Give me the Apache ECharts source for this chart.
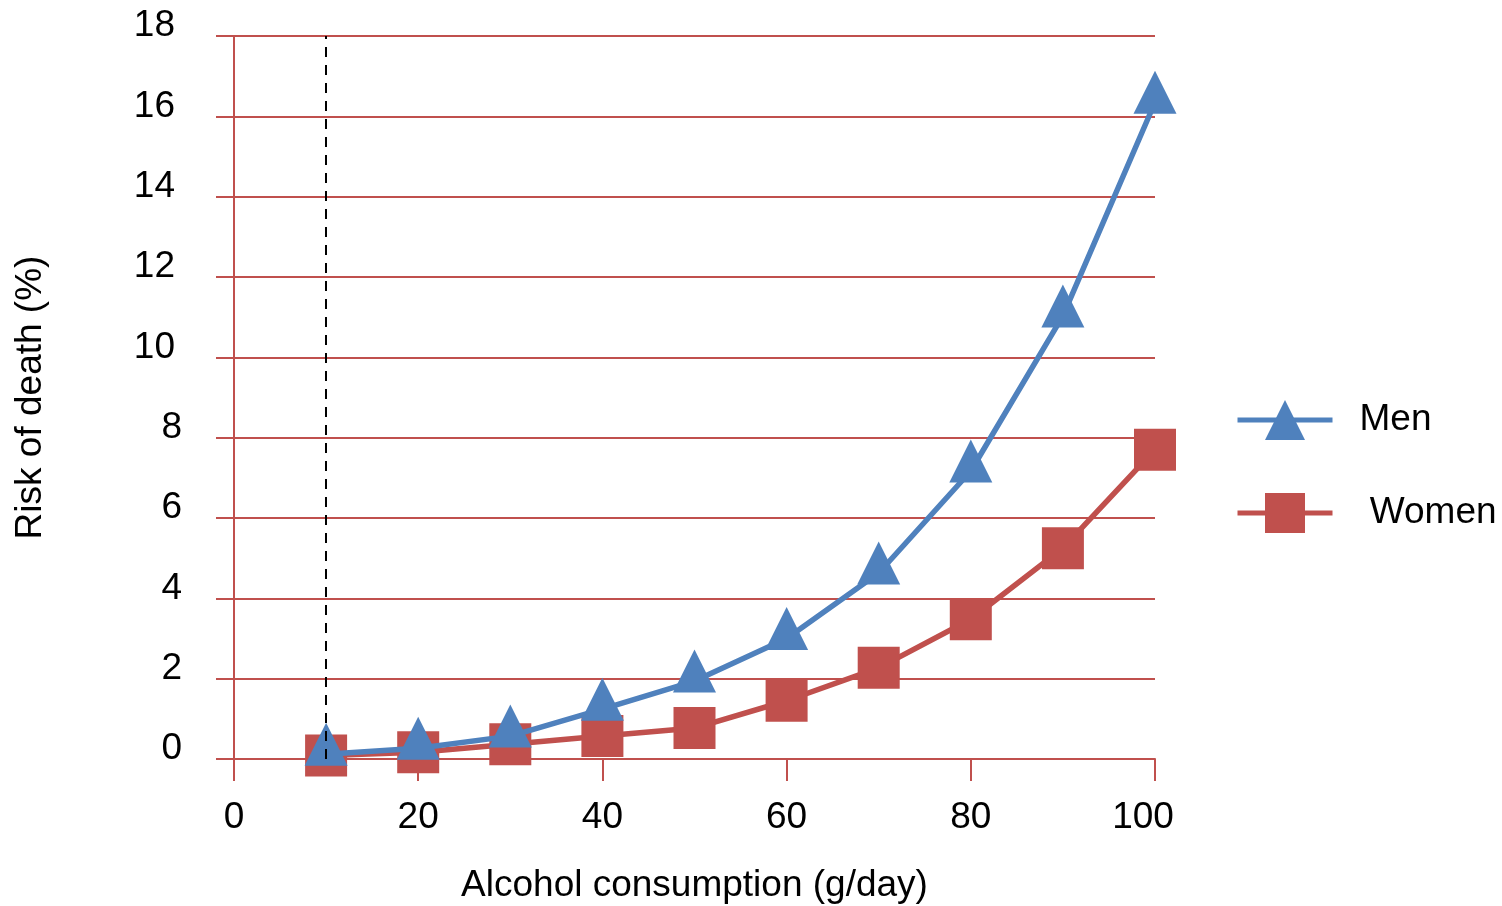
<!DOCTYPE html>
<html>
<head>
<meta charset="utf-8">
<script src="https://cdn.jsdelivr.net/npm/echarts@6/dist/echarts.min.js"></script>
<style>
html,body{margin:0;padding:0;background:#fff;}
#chart{width:1502px;height:906px;}
</style>
</head>
<body>
<div id="chart"></div>
<script>
// Data
var xValues = [10, 20, 30, 40, 50, 60, 70, 80, 90, 100];
var menRisk = [0.12, 0.27, 0.57, 1.24, 1.94, 3.0, 4.63, 7.17, 11.03, 16.35];
var womenRisk = [0.09, 0.17, 0.37, 0.57, 0.77, 1.45, 2.27, 3.48, 5.25, 7.7];
var thresholdX = 10;
var seriesNames = ['Men', ' Women'];
var xTitle = 'Alcohol consumption (g/day)';
var yTitle = 'Risk of death (%)';

function pairs(xs, ys) { return xs.map(function (x, i) { return [x, ys[i]]; }); }

var FONT = '"Liberation Sans", Arial, sans-serif';
var FS = 37;
var RED = '#C0504D';
var BLUE = '#4F81BD';

var chart = echarts.init(document.getElementById('chart'), null, {renderer: 'canvas'});
chart.setOption({
  animation: false,
  backgroundColor: '#fff',
  textStyle: {fontFamily: FONT, color: '#000'},
  grid: {left: 234, right: 347, top: 36, bottom: 147, containLabel: false, outerBoundsMode: 'none'},
  legend: {
    data: seriesNames,
    orient: 'vertical',
    left: 1230,
    top: 395,
    itemWidth: 95,
    itemHeight: 50,
    itemGap: 53,
    lineStyle: {width: 5},
    textStyle: {fontFamily: FONT, fontSize: FS, color: '#000', padding: [0, 0, 0, 22]},
    selectedMode: false
  },
  xAxis: {
    type: 'value',
    min: 0, max: 100, interval: 20,
    name: xTitle,
    nameLocation: 'middle',
    nameGap: 108,
    nameTextStyle: {fontFamily: FONT, fontSize: FS, color: '#000'},
    axisLine: {show: true, lineStyle: {color: RED, width: 2}},
    axisTick: {show: true, length: 22, inside: false, lineStyle: {color: RED, width: 2}},
    axisLabel: {
      margin: 40, fontFamily: FONT, fontSize: FS, color: '#000',
      formatter: function (v) { return v === 100 ? '{w|' + v + '}' : '{n|' + v + '}'; },
      rich: {
        n: {fontFamily: FONT, fontSize: FS, color: '#000'},
        w: {fontFamily: FONT, fontSize: FS, color: '#000', padding: [0, 24, 0, 0]}
      }
    },
    splitLine: {show: false}
  },
  yAxis: {
    type: 'value',
    min: 0, max: 18, interval: 2,
    name: yTitle,
    nameLocation: 'middle',
    nameGap: 185,
    nameRotate: 90,
    nameTextStyle: {fontFamily: FONT, fontSize: FS, color: '#000'},
    axisLine: {show: true, lineStyle: {color: RED, width: 2}},
    axisTick: {show: true, length: 18, inside: false, lineStyle: {color: RED, width: 2}},
    axisLabel: {
      margin: 52, fontFamily: FONT, fontSize: FS, color: '#000',
      verticalAlign: 'bottom', lineHeight: 20,
      formatter: function (v) { return v >= 10 ? '{w|' + v + '}' : '{n|' + v + '}'; },
      rich: {
        n: {fontFamily: FONT, fontSize: FS, color: '#000', lineHeight: 20},
        w: {fontFamily: FONT, fontSize: FS, color: '#000', lineHeight: 20, padding: [0, 7, 0, 0]}
      }
    },
    splitLine: {show: true, lineStyle: {color: RED, width: 2}}
  },
  series: [
    {
      name: 'threshold',
      type: 'line',
      data: [],
      z: 1,
      silent: true,
      markLine: {
        silent: true,
        symbol: 'none',
        label: {show: false},
        lineStyle: {color: '#000', width: 2, type: [10, 8]},
        data: [{xAxis: thresholdX}]
      }
    },
    {
      name: seriesNames[1],
      type: 'line',
      z: 3,
      data: pairs(xValues, womenRisk),
      symbol: 'rect',
      symbolSize: 42,
      lineStyle: {color: RED, width: 5.5},
      itemStyle: {color: RED},
      color: RED
    },
    {
      name: seriesNames[0],
      type: 'line',
      z: 4,
      data: pairs(xValues, menRisk),
      symbol: 'triangle',
      symbolSize: 43,
      symbolOffset: [0, -10],
      lineStyle: {color: BLUE, width: 5.5},
      itemStyle: {color: BLUE},
      color: BLUE
    }
  ]
});
</script>
</body>
</html>
